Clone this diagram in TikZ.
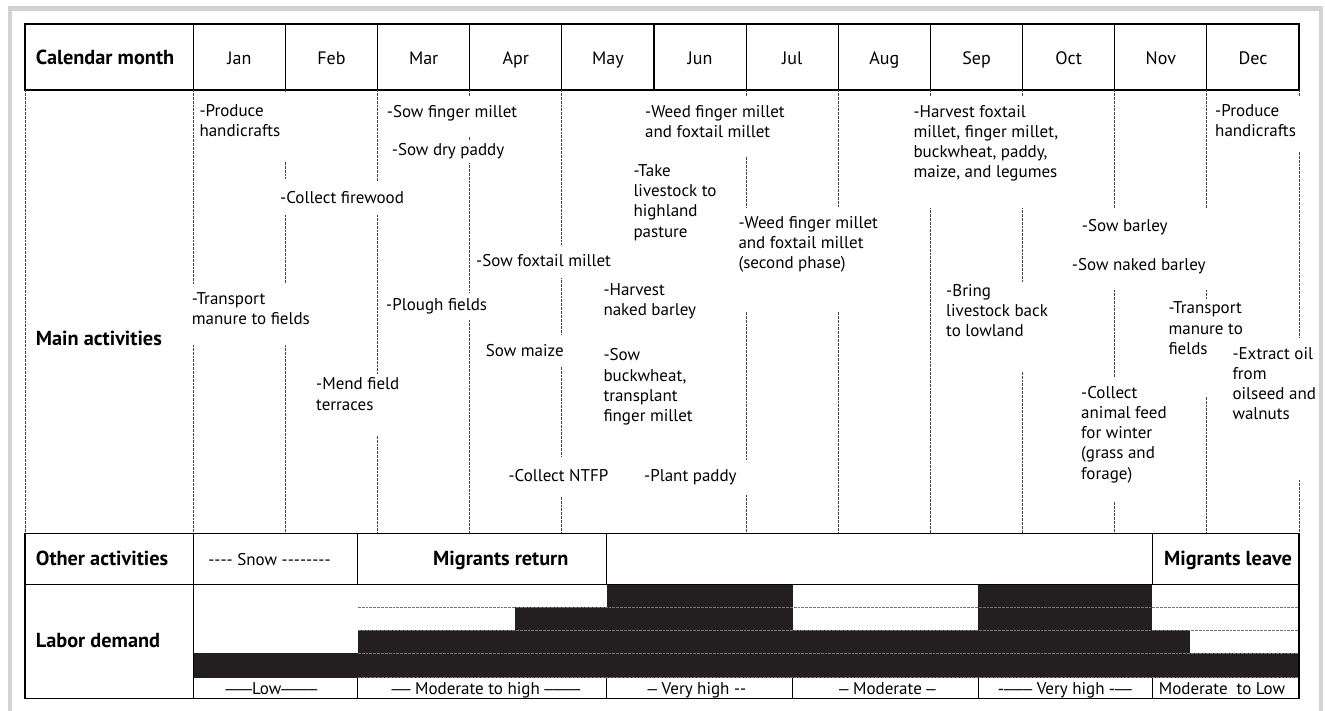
\documentclass[tikz,border=0pt]{standalone}
\usepackage{fontspec}
\setmainfont{PT Sans}
\newfontfamily\dfont{Liberation Sans}
\definecolor{barblack}{RGB}{35,31,32}
\definecolor{framegray}{RGB}{209,211,212}
\definecolor{dotgray}{RGB}{70,70,70}
\newcommand\hy{\hbox{-}}
\newcommand\actfont{\fontsize{17}{20.3}\selectfont}
\newcommand\monfont{\fontsize{18}{21}\selectfont}
\newcommand\lblfont{\fontsize{20.3}{24}\selectfont\bfseries}
\begin{document}
\begin{tikzpicture}[x=1pt,y=-1pt,
  tline/.style={line width=1.1pt, black},
  dline/.style={line width=0.9pt, dotgray, dash pattern=on 0.9pt off 0.45pt},
  bar/.style={fill=barblack, draw=none},
  act/.style={anchor=north west, yshift=14.21pt, inner sep=0pt, align=left, font=\actfont, execute at begin node=\strut},
  lbl/.style={anchor=base west, inner sep=0pt, font=\lblfont},
  mon/.style={anchor=base, inner sep=0pt, font=\monfont},
  cell/.style={anchor=base, inner sep=0pt, font=\actfont},
  bcell/.style={anchor=base, inner sep=0pt, font=\lblfont}]
\useasboundingbox (0,0) rectangle (1325,711);
% outer gray frame
\draw[framegray, line width=4.5pt] (10,711) -- (10,8.3) -- (1321,8.3) -- (1321,711);
% header row
\draw[tline] (25,24) rectangle (1299,90);
\foreach \k in {0,...,11} { \draw[tline] ({193.3+92.142*\k},24) -- ({193.3+92.142*\k},90); }
\node[lbl] (hcal) at (35.7,64.3) {Calendar month};
\foreach \m [count=\k from 0] in {Jan,Feb,Mar,Apr,May,Jun,Jul,Aug,Sep,Oct,Nov,Dec}
  { \node[mon] (m\k) at ({193.3+92.142*(\k+0.5)},64.3) {\m}; }
% main activities dotted verticals
\draw[dline] (25,90) -- (25,533.3);
\draw[dline] (193.3,90) -- (193.3,283.3) (193.3,345) -- (193.3,533.3);
\draw[dline] (285.4,90) -- (285.4,92.5) (285.4,161.7) -- (285.4,178.3) (285.4,215) -- (285.4,283.3) (285.4,345) -- (285.4,533.3);
\draw[dline] (377.6,90) -- (377.6,181.7) (377.6,215) -- (377.6,373.3) (377.6,435.7) -- (377.6,533.3);
\draw[dline] (469.7,90) -- (469.7,96.7) (469.7,136.7) -- (469.7,140) (469.7,163.3) -- (469.7,291.7) (469.7,320) -- (469.7,533.3);
\draw[dline] (561.9,90) -- (561.9,245) (561.9,278.3) -- (561.9,335) (561.9,366.7) -- (561.9,456.7) (561.9,496.7) -- (561.9,533.3);
\draw[dline] (746.1,90) -- (746.1,96.7) (746.1,156.7) -- (746.1,206.7) (746.1,311.7) -- (746.1,460) (746.1,495) -- (746.1,533.3);
\draw[dline] (838.3,90) -- (838.3,206.7) (838.3,311.7) -- (838.3,533.3);
\draw[dline] (930.4,90) -- (930.4,96.7) (930.4,208.3) -- (930.4,533.3);
\draw[dline] (1022.6,90) -- (1022.6,96.7) (1022.6,208.3) -- (1022.6,281.7) (1022.6,371.7) -- (1022.6,533.3);
\draw[dline] (1114.7,90) -- (1114.7,208.3) (1114.7,290) -- (1114.7,376.7) (1114.7,501.7) -- (1114.7,533.3);
\draw[dline] (1206.8,90) -- (1206.8,208.3) (1206.8,290) -- (1206.8,298.3) (1206.8,396.7) -- (1206.8,533.3);
\draw[dline] (1299,90) -- (1299,96.7) (1299,151.7) -- (1299,336.7) (1299,480) -- (1299,533.3);
\node[lbl] (hmain) at (35.7,345) {Main activities};
% activities
\node[act] (a1) at (199.3,118.3) {-Produce\\handicrafts};
\node[act] (a2) at (386.7,117) {-Sow finger millet};
\node[act] (a3) at (391.7,155) {-Sow dry paddy};
\node[act] (a4) at (280,203.8) {-Collect firewood};
\node[act] (a5) at (645,119.5) {-Weed finger millet\\and foxtail millet};
\node[act] (a6) at (633.3,178.3) {-Take\\livestock to\\highland\\pasture};
\node[act] (a7) at (738.3,230) {-Weed finger millet\\and foxtail millet\\(second phase)};
\node[act] (a8) at (476,266.7) {-Sow foxtail millet};
\node[act] (a9) at (603.3,297.7) {-Harvest\\naked barley};
\node[act] (a10) at (485.7,356.7) {Sow maize};
\node[act] (a11) at (603.3,362.7) {-Sow\\buckwheat,\\transplant\\finger millet};
\node[act] (a12) at (508.3,481.7) {-Collect NTFP};
\node[act] (a13) at (644,481.7) {-Plant paddy};
\node[act] (a14) at (191.7,306.7) {-Transport\\manure to fields};
\node[act] (a15) at (386,310) {-Plough fields};
\node[act] (a16) at (316,391.7) {-Mend field\\terraces};
\node[act] (a17) at (913.3,119) {-Harvest foxtail\\millet, finger millet,\\buckwheat, paddy,\\maize, and legumes};
\node[act] (a18) at (1215,118.3) {-Produce\\handicrafts};
\node[act] (a19) at (1081.7,231.7) {-Sow barley};
\node[act] (a20) at (1071.7,270) {-Sow naked barley};
\node[act] (a21) at (946,298.3) {-Bring\\livestock back\\to lowland};
\node[act] (a22) at (1168.3,316) {-Transport\\manure to\\fields};
\node[act] (a23) at (1232.3,361) {-Extract oil\\from\\oilseed and\\walnuts};
\node[act] (a24) at (1081,400) {-Collect\\animal feed\\for winter\\(grass and\\forage)};
% labor demand bars
\fill[bar] (193.3,653.3) rectangle (1299,677.7);
\fill[bar] (357.7,630) rectangle (1190,653.3);
\fill[bar] (515,607) rectangle (792.7,630);
\fill[bar] (978.3,607) rectangle (1152.3,630);
\fill[bar] (606.7,584.3) rectangle (792.7,607);
\fill[bar] (978.3,584.3) rectangle (1152.3,607);
\foreach \yy in {607,630,653.3,677.7} { \draw[dline, black!55] (357.7,\yy) -- (1299,\yy); }
% lower table lines
\draw[tline] (25,533.3) rectangle (1299,698.5);
\draw[tline] (25,584.3) -- (1299,584.3);
\draw[tline] (193.3,533.3) -- (193.3,698.5);
\foreach \xx in {357.7,606.7,1152.3} { \draw[tline] (\xx,533.3) -- (\xx,584.3); }
\foreach \xx in {357.7,606.7,792.7,978.3,1152.3} { \draw[tline] (\xx,677.7) -- (\xx,698.5); }
\node[lbl] (hother) at (35.7,565) {Other activities};
\node[lbl] (hlabor) at (35.7,647.7) {Labor demand};
\node[cell] (snow) at (269.5,565) {\hy\hy\hy\hy{} Snow \hy\hy\hy\hy\hy\hy\hy\hy};
\node[bcell] (mret) at (500.8,565) {Migrants return};
\node[bcell] (mlv) at (1228,565) {Migrants leave};
\node[cell] (l1) at (271.5,694.5) {{\dfont –—}Low{\dfont –—–}};
\node[cell] (l2) at (486,694.5) {{\dfont ––} Moderate to high {\dfont –—–}};
\node[cell] (l3) at (697,694.5) {{\dfont –} Very high \hy\hy};
\node[cell] (l4) at (887.5,694.5) {{\dfont –} Moderate {\dfont –}};
\node[cell] (l5) at (1065,694.5) {{\dfont \hy–––} Very high {\dfont \hy—}};
\node[cell] (l6) at (1222,694.5) {Moderate\ \ to Low};
\end{tikzpicture}
\end{document}
